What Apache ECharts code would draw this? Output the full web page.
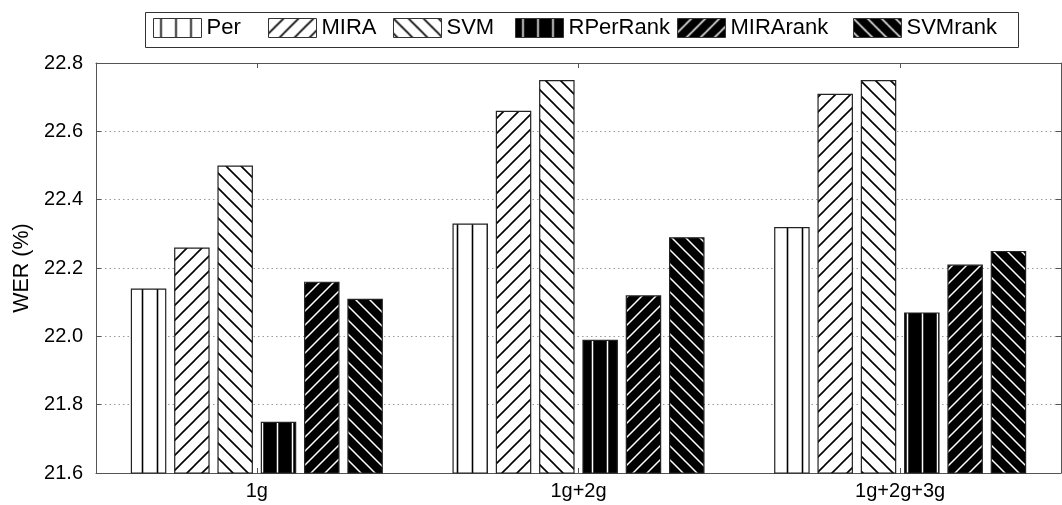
<!DOCTYPE html>
<html>
<head>
<meta charset="utf-8">
<script src="https://cdn.jsdelivr.net/npm/echarts@6/dist/echarts.min.js"></script>
<style>
html,body{margin:0;padding:0;background:#fff;}
#chart{width:1062px;height:505px;}
</style>
</head>
<body>
<div id="chart"></div>
<script>
// ---- data ----
const categories = ['1g', '1g+2g', '1g+2g+3g'];
const seriesNames = ['Per', 'MIRA', 'SVM', 'RPerRank', 'MIRArank', 'SVMrank'];
const perValues      = [22.14, 22.33, 22.32];
const miraValues     = [22.26, 22.66, 22.71];
const svmValues      = [22.50, 22.75, 22.75];
const rperRankValues = [21.75, 21.99, 22.07];
const miraRankValues = [22.16, 22.12, 22.21];
const svmRankValues  = [22.11, 22.29, 22.25];
const yMin = 21.6, yMax = 22.8, yStep = 0.2;

// ---- patterns ----
function makePattern(bg, fg, kind, s, lw) {
  const c = document.createElement('canvas');
  c.width = s; c.height = s;
  const g = c.getContext('2d');
  g.fillStyle = bg; g.fillRect(0, 0, s, s);
  g.strokeStyle = fg; g.lineWidth = lw;
  g.beginPath();
  if (kind === 'v') {
    g.moveTo(s / 2, -1); g.lineTo(s / 2, s + 1);
  } else if (kind === 'f') { // "/"
    for (let k = -1; k <= 1; k++) { g.moveTo(-1, s + 1 + k * s); g.lineTo(s + 1, -1 + k * s); }
  } else { // "\"
    for (let k = -1; k <= 1; k++) { g.moveTo(-1, -1 + k * s); g.lineTo(s + 1, s + 1 + k * s); }
  }
  g.stroke();
  return { image: c, repeat: 'repeat' };
}
const fills = [
  makePattern('#ffffff', '#000000', 'v', 15, 1.6),
  makePattern('#ffffff', '#000000', 'f', 15, 1.6),
  makePattern('#ffffff', '#000000', 'b', 15, 1.6),
  makePattern('#000000', '#ffffff', 'v', 15, 1.5),
  makePattern('#000000', '#ffffff', 'f', 14, 1.5),
  makePattern('#000000', '#ffffff', 'b', 14, 1.5)
];
const allValues = [perValues, miraValues, svmValues, rperRankValues, miraRankValues, svmRankValues];

const FONT = "'Liberation Sans', Arial, sans-serif";
const legendLeft = [153, 268, 393, 515, 677, 853];

const chart = echarts.init(document.getElementById('chart'), null, { renderer: 'canvas' });
const option = {
  animation: false,
  backgroundColor: '#ffffff',
  textStyle: { fontFamily: FONT, color: '#000' },
  graphic: [{
    type: 'rect', z: -1, silent: true,
    shape: { x: 145.5, y: 12.5, width: 873, height: 35 },
    style: { fill: '#fff', stroke: '#333', lineWidth: 1 }
  }],
  legend: seriesNames.map((n, i) => ({
    data: [n],
    left: legendLeft[i], top: 17,
    padding: 0,
    icon: 'rect',
    itemWidth: 48, itemHeight: 19,
    selectedMode: false,
    itemStyle: { borderColor: '#333', borderWidth: 1 },
    textStyle: { fontFamily: FONT, fontSize: 22, color: '#000' }
  })),
  grid: { left: 96, right: 1, top: 63, bottom: 32, containLabel: false },
  xAxis: [{
    type: 'category', data: categories, position: 'bottom',
    axisLine: { show: true, lineStyle: { color: '#555', width: 1 } },
    axisTick: { show: true, inside: true, alignWithLabel: true, length: 5, lineStyle: { color: '#555' } },
    axisLabel: { fontSize: 20, color: '#000', fontFamily: FONT, margin: 8 },
    splitLine: { show: false }
  }, {
    type: 'category', data: categories, position: 'top',
    axisLine: { show: true, lineStyle: { color: '#555', width: 1 } },
    axisTick: { show: true, inside: true, alignWithLabel: true, length: 5, lineStyle: { color: '#555' } },
    axisLabel: { show: false },
    splitLine: { show: false }
  }],
  yAxis: [{
    type: 'value', min: yMin, max: yMax, interval: yStep, position: 'left',
    name: 'WER (%)', nameLocation: 'middle', nameGap: 60,
    nameTextStyle: { fontSize: 21.5, color: '#000', fontFamily: FONT },
    axisLine: { show: true, lineStyle: { color: '#555', width: 1 } },
    axisTick: { show: true, inside: true, length: 5, lineStyle: { color: '#555' } },
    axisLabel: { fontSize: 20, color: '#000', fontFamily: FONT, margin: 13, formatter: v => v.toFixed(1) },
    splitLine: { show: true, lineStyle: { color: '#999', width: 1, type: [1.5, 3] } }
  }, {
    type: 'value', min: yMin, max: yMax, interval: yStep, position: 'right',
    axisLine: { show: true, lineStyle: { color: '#555', width: 1 } },
    axisTick: { show: true, inside: true, length: 5, lineStyle: { color: '#555' } },
    axisLabel: { show: false },
    splitLine: { show: false }
  }],
  series: seriesNames.map((n, i) => ({
    name: n, type: 'bar',
    xAxisIndex: 0, yAxisIndex: 0,
    data: allValues[i],
    barWidth: 35.5, barGap: '22%',
    itemStyle: { color: fills[i], borderColor: '#222', borderWidth: 1.2 },
    emphasis: { disabled: true }
  }))
};
chart.setOption(option);
</script>
</body>
</html>
